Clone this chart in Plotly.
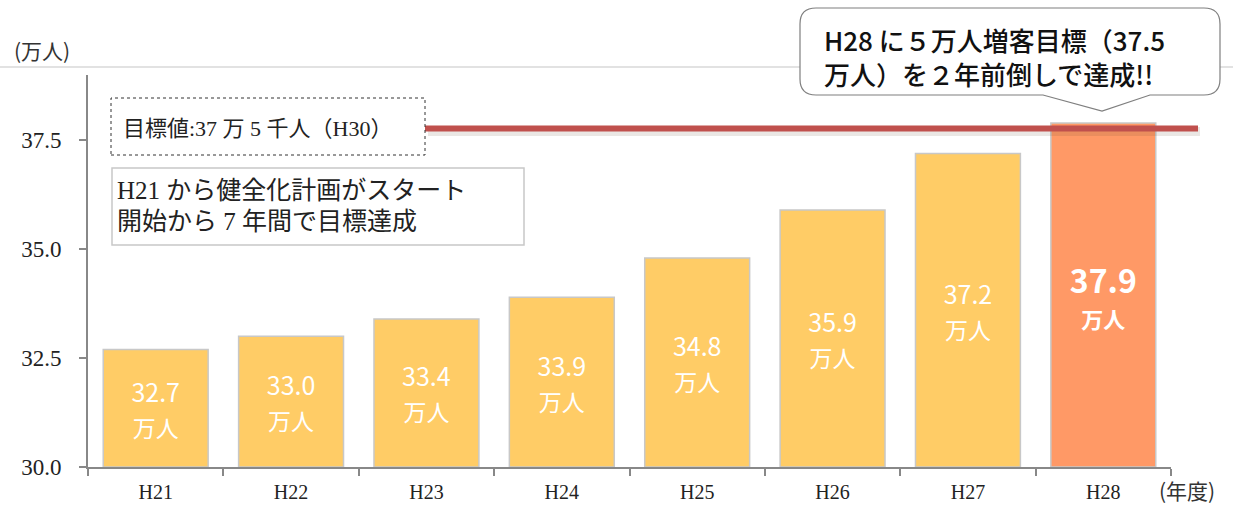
import plotly.graph_objects as go

categories = ["H21", "H22", "H23", "H24", "H25", "H26", "H27", "H28"]
visitors = [32.7, 33.0, 33.4, 33.9, 34.8, 35.9, 37.2, 37.9]
bar_colors = ["#FFCC66"] * 7 + ["#FF9966"]
y_ticks = [30.0, 32.5, 35.0, 37.5]
y_tick_labels = ["30.0", "32.5", "35.0", "37.5"]
target_value = 37.77

W, H = 1233, 506
ML, MR, MT, MB = 88, 62, 75, 39
PW, PH = W - ML - MR, H - MT - MB


def px(x):
    return (x - ML) / PW


def py(y):
    return (H - MB - y) / PH


texts = []
for i, v in enumerate(visitors):
    if i == len(visitors) - 1:
        texts.append(f"<b><span style='font-size:32px'>{v:.1f}</span><br><span style='font-size:22px'>万人</span></b>")
    else:
        texts.append(f"<span style='font-size:25px'>{v:.1f}</span><br><span style='font-size:23px'>万人</span>")

fig = go.Figure()
fig.add_trace(go.Bar(
    x=categories, y=[v - 30 for v in visitors], base=30,
    marker=dict(color=bar_colors, line=dict(color="#C8C8C8", width=1.5)),
    text=texts, textposition="inside", insidetextanchor="middle",
    textfont=dict(family="Noto Sans CJK JP", color="white", size=27),
    constraintext="none", hoverinfo="skip", width=0.775,
))

serif = "Liberation Serif, Noto Sans CJK JP"

fig.update_layout(
    width=W, height=H,
    margin=dict(l=ML, r=MR, t=MT, b=MB, autoexpand=False),
    paper_bgcolor="white", plot_bgcolor="white",
    showlegend=False,
    bargap=0.225,
    xaxis=dict(
        type="category", tickson="boundaries", ticks="outside", ticklen=7,
        tickcolor="#888888", tickwidth=2, showline=True, linecolor="#888888",
        linewidth=2, showgrid=False, tickfont=dict(family=serif, size=20, color="#222"),
        range=[-0.5, 7.5], ticklabelstandoff=6,
    ),
    yaxis=dict(
        range=[30, 39.0], tickvals=y_ticks, ticktext=y_tick_labels,
        ticks="outside", ticklen=7, tickcolor="#888888", tickwidth=2,
        showline=True, linecolor="#888888", linewidth=2, showgrid=False,
        zeroline=False, tickfont=dict(family=serif, size=23, color="#222"),
        ticklabelstandoff=13,
    ),
)

shapes = []
# separator line at top
shapes.append(dict(type="line", xref="paper", yref="paper", x0=px(0), x1=px(W), y0=py(67), y1=py(67),
                   line=dict(color="#D9D9D9", width=1.5), layer="above"))
# target line shadow + line
shapes.append(dict(type="line", xref="paper", yref="y", x0=px(428), x1=px(1200),
                   y0=target_value - 0.07, y1=target_value - 0.07,
                   line=dict(color="rgba(90,70,50,0.13)", width=9), layer="above"))
shapes.append(dict(type="line", xref="paper", yref="y", x0=px(425), x1=px(1198),
                   y0=target_value, y1=target_value,
                   line=dict(color="#C0504D", width=6), layer="above"))
# box 1 dotted
shapes.append(dict(type="rect", xref="paper", yref="paper", x0=px(111), x1=px(425), y0=py(155), y1=py(98),
                   line=dict(color="#333333", width=1, dash="dot"), fillcolor="white", layer="above"))
# box 2
shapes.append(dict(type="rect", xref="paper", yref="paper", x0=px(112), x1=px(524), y0=py(245), y1=py(168),
                   line=dict(color="#C8C8C8", width=1.5), fillcolor="white", layer="above"))
# callout rounded rect with pointer
L, R, T, B, r = 800, 1220, 8, 95, 16
pts = [
    ("M", L + r, T), ("L", R - r, T), ("Q", R, T, R, T + r), ("L", R, B - r), ("Q", R, B, R - r, B),
    ("L", 1150, B), ("L", 1102, 111), ("L", 1043, B), ("L", L + r, B), ("Q", L, B, L, B - r),
    ("L", L, T + r), ("Q", L, T, L + r, T),
]
path = ""
for p in pts:
    cmd = p[0]
    coords = p[1:]
    s = []
    for j in range(0, len(coords), 2):
        s.append(f"{px(coords[j]):.5f},{py(coords[j + 1]):.5f}")
    path += cmd + " ".join(s) + " "
path += "Z"
shapes.append(dict(type="path", xref="paper", yref="paper", path=path,
                   line=dict(color="#7F7F7F", width=1.2), fillcolor="white", layer="above"))
fig.update_layout(shapes=shapes)

callout_font = dict(family="Noto Sans CJK JP", size=26, color="#111", weight=500)
box2_font = dict(family=serif, size=25, color="#222")
annotations = [
    dict(text="(万人)", x=px(12), y=py(50), xanchor="left", yanchor="middle",
         font=dict(family="Noto Sans CJK JP", size=21, color="#333")),
    dict(text="(年度)", x=px(1157), y=py(490), xanchor="left", yanchor="middle",
         font=dict(family="Noto Sans CJK JP", size=21, color="#333")),
    dict(text="目標値:37 万 5 千人（H30）", x=px(121), y=py(128), xanchor="left", yanchor="middle",
         font=dict(family=serif, size=22, color="#222")),
    dict(text="H21 から健全化計画がスタート", x=px(115), y=py(190),
         xanchor="left", yanchor="middle", font=box2_font),
    dict(text="開始から 7 年間で目標達成", x=px(115), y=py(221),
         xanchor="left", yanchor="middle", font=box2_font),
    dict(text="H28 に５万人増客目標（37.5", x=px(822), y=py(39), xanchor="left", yanchor="middle",
         font=callout_font),
    dict(text="万人）を２年前倒しで達成!!", x=px(822), y=py(73), xanchor="left", yanchor="middle",
         font=callout_font),
]
for a in annotations:
    a.update(xref="paper", yref="paper", showarrow=False)
fig.update_layout(annotations=annotations)

fig.write_html("out.html", config={"displayModeBar": False},
               post_script="document.body.style.margin='0';")
